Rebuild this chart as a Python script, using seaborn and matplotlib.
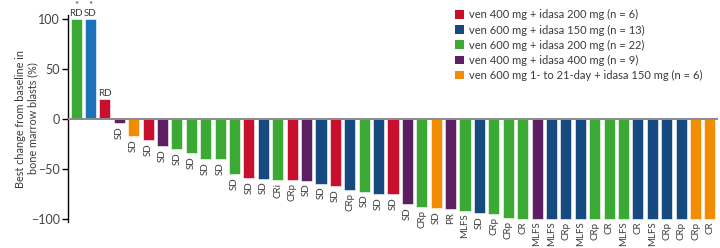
import matplotlib
matplotlib.use("Agg")
import matplotlib.pyplot as plt
import seaborn as sns
import pandas as pd
from matplotlib.patches import Patch

# Best change per patient (waterfall order) and arm code
values = [100, 100, 20, -4.5, -17, -21, -27, -30.5, -34, -40, -40, -55.5, -59.5, -60,
          -61, -61, -62, -65, -67.5, -71.5, -73, -75.5, -75.5, -85.5, -88.5, -89.5,
          -90.5, -92, -94.5, -95.5, -99, -100, -100, -100, -100, -100, -100, -100,
          -100, -100, -100, -100, -100, -100, -100]
arms = ["G", "B2", "R", "P", "O", "R", "P", "G", "G", "G", "G", "G", "R", "B",
        "G", "R", "P", "B", "R", "B", "G", "B", "R", "P", "G", "O",
        "P", "G", "B", "G", "G", "G", "P", "B", "B", "B", "G", "G",
        "G", "B", "B", "B", "B", "O", "O"]
responses = ["RD", "SD", "RD", "SD", "SD", "SD", "SD", "SD", "SD", "SD", "SD", "SD", "SD", "SD",
             "CRi", "CRp", "SD", "SD", "SD", "CRp", "SD", "SD", "SD", "SD", "CRp", "SD",
             "PR", "MLFS", "SD", "CRp", "CRp", "CR", "MLFS", "MLFS", "CRp", "MLFS", "CRp", "CR",
             "MLFS", "CR", "MLFS", "CRp", "CRp", "CRp", "CR"]
starred = [0, 1]

legend_keys = ["R", "B", "G", "P", "O"]
legend_labels = ["ven 400 mg + idasa 200 mg (n = 6)",
                 "ven 600 mg + idasa 150 mg (n = 13)",
                 "ven 600 mg + idasa 200 mg (n = 22)",
                 "ven 400 mg + idasa 400 mg (n = 9)",
                 "ven 600 mg 1- to 21-day + idasa 150 mg (n = 6)"]

palette = {"R": "#c8102e", "B": "#144a7f", "B2": "#1b72b8", "G": "#3aaa35",
           "P": "#5c1f62", "O": "#f28c00"}

sns.set_style("white")
plt.rcParams["font.family"] = ["Lato", "DejaVu Sans"]
text_color = "#3a3a3a"

df = pd.DataFrame({"pos": range(len(values)), "value": values, "arm": arms})

fig = plt.figure(figsize=(7.2, 2.48), dpi=100)
ax = fig.add_axes([68 / 720, 26 / 248, 650 / 720, 207 / 248])

sns.barplot(data=df, x="pos", y="value", hue="arm", palette=palette, dodge=False,
            width=0.77, legend=False, ax=ax, edgecolor="white", linewidth=0.4,
            saturation=1)

ax.set_xlim(-0.56, len(values) - 0.44)
ax.set_ylim(-103.5, 104.5)
ax.set_yticks([100, 50, 0, -50, -100])
ax.set_yticklabels(["100", "50", "0", "\u2212" + "50", "\u2212" + "100"])
ax.axhline(0, color="#8a8a8a", linewidth=1.4, zorder=5)

ax.set_xticks([])
ax.set_xlabel("")
ax.set_ylabel("Best change from baseline in\nbone marrow blasts (%)", fontsize=7.8,
              color=text_color, linespacing=1.1)
ax.yaxis.set_label_coords(-0.046, 0.5)
for s in ["top", "right", "bottom"]:
    ax.spines[s].set_visible(False)
ax.spines["left"].set_color("black")
ax.spines["left"].set_linewidth(1.0)
ax.tick_params(axis="y", direction="out", length=4, width=1, color="black",
               labelsize=9, labelcolor="#444444", pad=2, left=True)

# response labels (starred ones carry the asterisk on a line above)
for i, (v, r) in enumerate(zip(values, responses)):
    if v > 0:
        label = "*\n" + r if i in starred else r
        ax.text(i, v + 1.5, label, ha="center", va="bottom", fontsize=7,
                color=text_color, linespacing=0.85, clip_on=False)
    else:
        ax.text(i, v - 3, r, ha="center", va="top", rotation=90, fontsize=7,
                color=text_color, clip_on=False)

handles = [Patch(facecolor=palette[k], edgecolor="none") for k in legend_keys]
fig.legend(handles, legend_labels, loc="upper left", bbox_to_anchor=(451 / 720, 1 - 5 / 248),
           frameon=False, fontsize=8, handlelength=0.8, handleheight=0.8,
           handletextpad=0.45, labelspacing=0.36, labelcolor=text_color,
           borderaxespad=0)

fig.savefig("out.png", dpi=100)
